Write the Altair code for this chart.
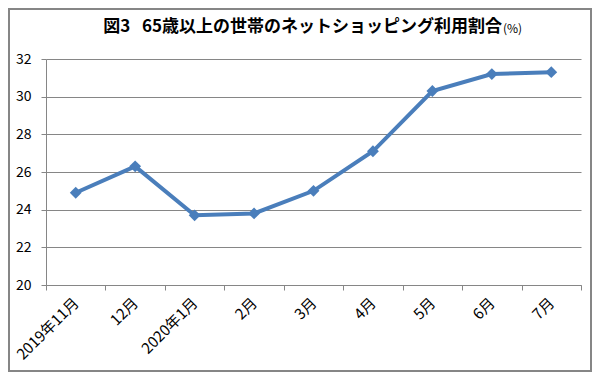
import altair as alt
import pandas as pd

months = ["2019年11月", "12月", "2020年1月", "2月", "3月", "4月", "5月", "6月", "7月"]
values = [24.9, 26.3, 23.7, 23.8, 25.0, 27.1, 30.3, 31.2, 31.3]
title_main = "図3\u00a0\u00a0\u00a065歳以上の世帯のネットショッピング利用割合"
title_unit = "(%)"

df = pd.DataFrame({"month": months, "value": values})
FONT = "Noto Sans CJK JP"
GREY = "#868686"
BLUE = "#4a7ebb"

x = alt.X("month:N", sort=months, title=None,
          scale=alt.Scale(type="band", paddingInner=0, paddingOuter=0),
          axis=alt.Axis(labelAngle=-45, labelAlign="right", labelBaseline="middle",
                        tickBand="extent", grid=False, domainColor=GREY, tickColor=GREY,
                        tickSize=5, labelPadding=10, labelFont=FONT, labelFontSize=15,
                        labelColor="#000000"))
y = alt.Y("value:Q", title=None,
          scale=alt.Scale(domain=[20, 32], nice=False, zero=False),
          axis=alt.Axis(values=[20, 22, 24, 26, 28, 30, 32], grid=True, gridColor=GREY,
                        gridWidth=1.2, domainColor=GREY, tickColor=GREY, tickSize=5,
                        labelPadding=10, labelFont=FONT, labelFontSize=14, labelColor="#000000"))

line = alt.Chart(df).mark_line(color=BLUE, strokeWidth=4, point=alt.OverlayMarkDef(
    shape="diamond", size=140, filled=True, color=BLUE, opacity=1)).encode(x=x, y=y)

tdf = pd.DataFrame({"main": [title_main], "unit": [title_unit]})
t1 = alt.Chart(tdf).mark_text(font=FONT, fontSize=17, fontWeight="bold", align="right",
                              baseline="middle", color="#000000").encode(
    x=alt.value(456), y=alt.value(-32), text="main:N")
t2 = alt.Chart(tdf).mark_text(font=FONT, fontSize=12, align="left",
                              baseline="middle", color="#000000").encode(
    x=alt.value(457), y=alt.value(-30), text="unit:N")
border = alt.Chart(tdf).mark_rect(fill=None, stroke=GREY, strokeWidth=2).encode(
    x=alt.value(-37), x2=alt.value(545), y=alt.value(-50), y2=alt.value(312))

chart = alt.layer(border, line, t1, t2).properties(
    width=535, height=226,
    autosize=alt.AutoSizeParams(type="none"),
    padding={"left": 38, "top": 51, "right": 11, "bottom": 87},
).configure_view(stroke=None)

chart.save("out.html", embed_options={"renderer": "svg", "actions": False})
